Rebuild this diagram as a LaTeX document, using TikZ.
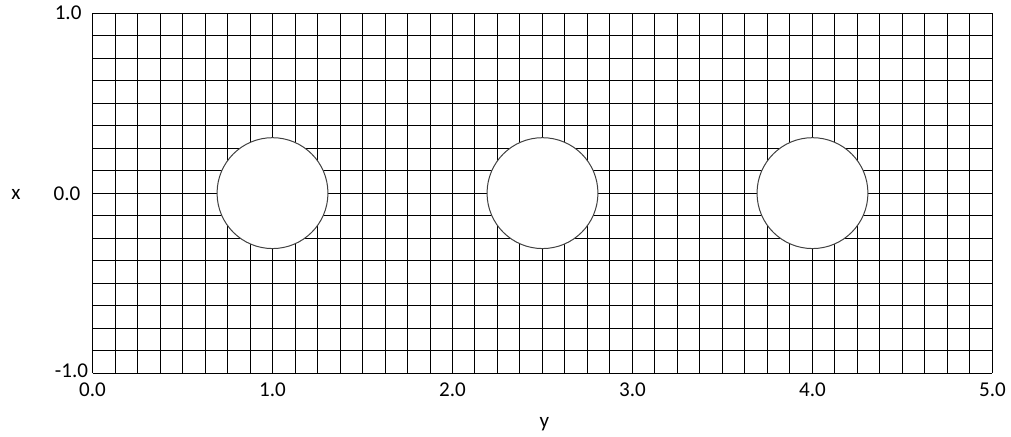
\documentclass[tikz,border=0pt]{standalone}
\usepackage{fontspec}
\setmainfont{Carlito}
\usetikzlibrary{positioning}

\begin{document}
\begin{tikzpicture}[
    x=135pt,
    y=135pt,
    every node/.style={font=\fontsize{15.8}{18}\selectfont, inner sep=0pt},
    gridline/.style={line width=0.75pt, black},
    hole/.style={draw=black!75, line width=0.75pt, fill=white},
    ticklabel/.style={anchor=center}
]

% Frame
\useasboundingbox (-0.514,-1.354) rectangle (5.103,1.073);

% Grid
\foreach \i in {0,...,40}
    \draw[gridline] (\i*0.125,-1) -- (\i*0.125,1);
\foreach \j in {0,...,16}
    \draw[gridline] (0,-1+\j*0.125) -- (5,-1+\j*0.125);

% Holes
\foreach \c in {1.0,2.5,4.0}
    \draw[hole] (\c,0) circle (0.308);

% Axis labels
\node[anchor=east] (ytop) at (-0.06,1.0) {1.0};
\node[anchor=east] (ymid) at (-0.066,-0.004) {0.0};
\node[anchor=east] (ybot) at (-0.023,-0.989) {-1.0};
\node (xlab) at (-0.425,-0.01) {x};

\foreach \t [count=\k] in {0.0,1.0,2.0,3.0,4.0,5.0}
    \node[ticklabel] (tick\k) at (\t,-1.095) {\t};
\node[anchor=base] (ylab) at (2.511,-1.303) {y};

\end{tikzpicture}
\end{document}
